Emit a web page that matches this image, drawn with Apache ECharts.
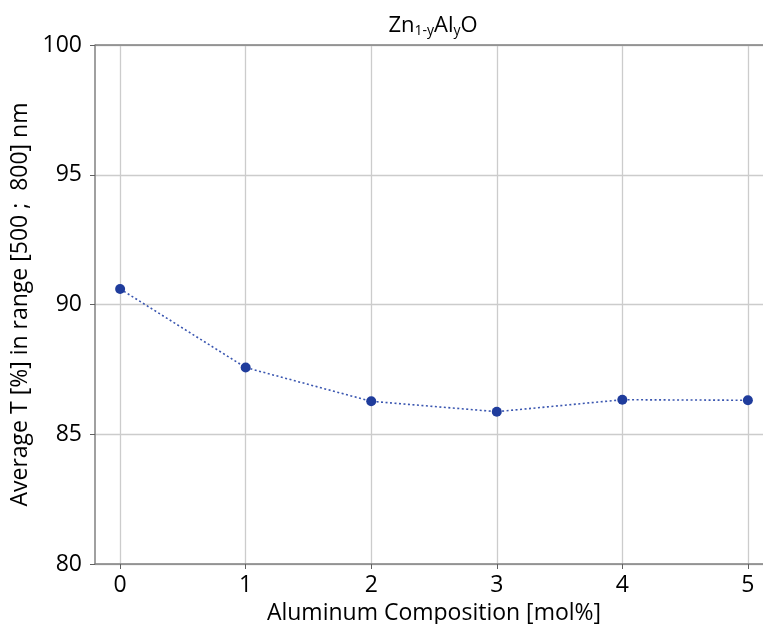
<!DOCTYPE html>
<html><head><meta charset="utf-8">
<script src="https://cdn.jsdelivr.net/npm/echarts@6/dist/echarts.min.js"></script>
<style>html,body{margin:0;padding:0;background:#fff}#c{width:763px;height:624px}</style>
</head><body><div id="c"></div>
<script>
const categories = [0, 1, 2, 3, 4, 5];
const avgT = [90.60, 87.57, 86.27, 85.87, 86.33, 86.31];
const yTicks = [80, 85, 90, 95, 100];
const xTicks = [0, 1, 2, 3, 4, 5];

const FONT = 'Open Sans';
const chart = echarts.init(document.getElementById('c'), null, {renderer: 'canvas'});
chart.setOption({
  animation: false,
  backgroundColor: '#ffffff',
  title: {
    text: 'Zn{s|1-y}Al{s|y}O',
    left: 428, top: 8, textAlign: 'center',
    textStyle: {
      fontFamily: FONT, fontSize: 22, fontWeight: 'normal', color: '#000',
      rich: { s: { fontFamily: FONT, fontSize: 14, color: '#000', verticalAlign: 'bottom', padding: [11, 0, 0, 0] } }
    }
  },
  grid: { left: 95, top: 45, width: 678, height: 519, show: false, outerBoundsMode: 'none', containLabel: false },
  xAxis: {
    type: 'value', min: -0.2, max: 5.2, interval: 1,
    name: 'Aluminum Composition [mol%]', nameLocation: 'middle', nameGap: 37,
    nameTextStyle: { fontFamily: FONT, fontSize: 23, color: '#000' },
    axisLine: { show: true, onZero: false, lineStyle: { color: '#808080', width: 1.5 } },
    axisTick: { show: true, length: 5, lineStyle: { color: '#606060' }, customValues: xTicks },
    axisLabel: { fontFamily: FONT, fontSize: 23, color: '#000', margin: 10, customValues: xTicks,
      formatter: v => String(v) },
    splitLine: { show: true, lineStyle: { color: '#cccccc', width: 1.3 } }
  },
  yAxis: {
    type: 'value', min: 80, max: 100, interval: 5,
    name: 'Average T [%] in range [500 ;  800] nm', nameLocation: 'middle', nameGap: 62,
    nameTextStyle: { fontFamily: FONT, fontSize: 23, color: '#000' },
    axisLine: { show: true, onZero: false, lineStyle: { color: '#808080', width: 1.5 } },
    axisTick: { show: true, length: 5, lineStyle: { color: '#606060' } },
    axisLabel: { fontFamily: FONT, fontSize: 23, color: '#000', margin: 13 },
    splitLine: { show: true, lineStyle: { color: '#cccccc', width: 1.3 } }
  },
  series: [{
    type: 'line',
    data: categories.map((x, i) => [x, avgT[i]]),
    symbol: 'circle', symbolSize: 10,
    itemStyle: { color: '#1f3c9c' },
    lineStyle: { color: '#3a56b0', width: 1.6, type: [2, 2.5] },
    z: 5
  }],
  graphic: [{
    type: 'line', shape: { x1: 95, y1: 45, x2: 763, y2: 45 },
    style: { stroke: '#808080', lineWidth: 1.5 }, z: 10
  }]
});
</script></body></html>
